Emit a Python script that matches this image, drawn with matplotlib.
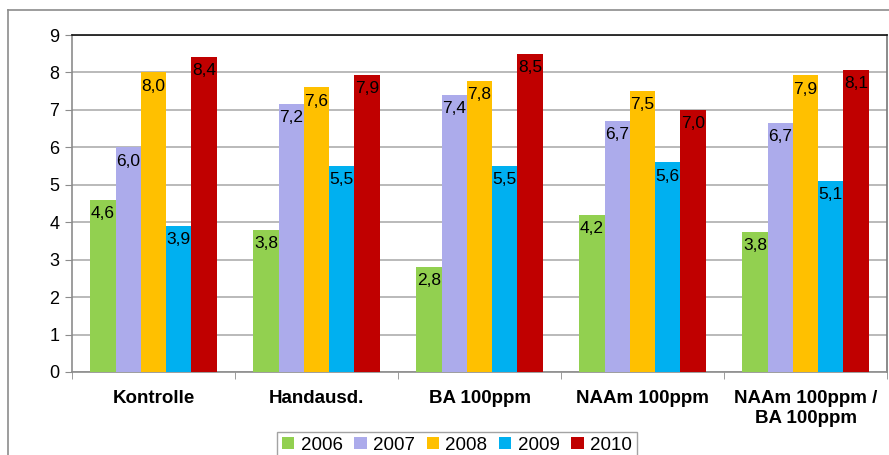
import matplotlib
matplotlib.use("Agg")
import matplotlib.pyplot as plt
import numpy as np
from matplotlib.lines import Line2D

plt.rcParams['font.family'] = ['Liberation Sans', 'DejaVu Sans']

categories = ["Kontrolle", "Handausd.", "BA 100ppm", "NAAm 100ppm", "NAAm 100ppm /\nBA 100ppm"]
years = ["2006", "2007", "2008", "2009", "2010"]
v2006 = [4.6, 3.8, 2.8, 4.2, 3.75]
v2007 = [6.0, 7.16, 7.4, 6.7, 6.65]
v2008 = [8.0, 7.6, 7.78, 7.5, 7.92]
v2009 = [3.9, 5.5, 5.5, 5.6, 5.1]
v2010 = [8.42, 7.93, 8.5, 7.0, 8.07]
series = [v2006, v2007, v2008, v2009, v2010]
colors = ["#92d050", "#acabeb", "#ffc000", "#00b0f0", "#c00000"]

fig = plt.figure(figsize=(8.89, 4.55), dpi=100)
ax = fig.add_axes([72/889, 1-372/455, (887-72)/889, (372-35)/455])

# outer chart border (top and left visible)
fig.add_artist(Line2D([8/889, 1.0], [1-10/455, 1-10/455], transform=fig.transFigure, color="#8c8c8c", lw=1.2))
fig.add_artist(Line2D([8/889, 8/889], [1-10/455, 0], transform=fig.transFigure, color="#8c8c8c", lw=1.2))

x = np.arange(len(categories))
w = 0.155
for i, (vals, c) in enumerate(zip(series, colors)):
    pos = x + (i - 2) * w
    bars = ax.bar(pos, vals, width=w, color=c, label=years[i], zorder=3)
    for b, v in zip(bars, vals):
        ax.annotate(f"{v:.1f}".replace(".", ","), (b.get_x() + b.get_width()/2, v),
                    xytext=(0, -4.5), textcoords="offset points", ha="center", va="top",
                    fontsize=12.5, color="black", zorder=4)

ax.set_xlim(-0.5, 4.5)
ax.set_ylim(0, 9)
ax.set_yticks(range(0, 10))
ax.yaxis.grid(True, color="#b4b4b4", lw=1.3, zorder=0)
ax.set_axisbelow(True)
ax.tick_params(axis="y", length=5, color="#8c8c8c", labelsize=13, pad=4)
ax.set_xticks(x)
ax.set_xticklabels(categories, fontweight="bold", fontsize=13.5)
ax.tick_params(axis="x", which="major", length=0, pad=13)
ax.set_xticks(np.arange(-0.5, 5, 1), minor=True)
ax.tick_params(axis="x", which="minor", length=5, color="#8c8c8c")

ax.spines["left"].set_color("#8c8c8c")
ax.spines["bottom"].set_color("#8c8c8c")
ax.spines["top"].set_color("#111111")
ax.spines["right"].set_color("#777777")
for s in ax.spines.values():
    s.set_linewidth(1.2)

leg = fig.legend(loc="upper center", bbox_to_anchor=(457/889, 1-432/455), ncol=5,
                 fontsize=13.5, frameon=True, fancybox=False, handlelength=0.65,
                 handleheight=0.65, handletextpad=0.35, columnspacing=0.62,
                 borderpad=0.25, borderaxespad=0)
leg.get_frame().set_edgecolor("#8c8c8c")
leg.get_frame().set_linewidth(1.0)

fig.savefig("out.png", dpi=100)
